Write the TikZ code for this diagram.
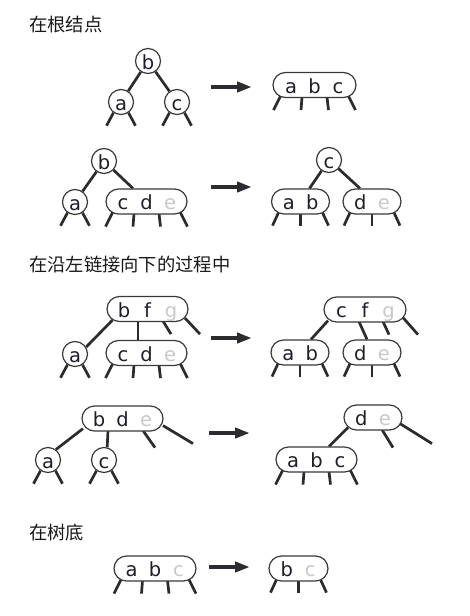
\documentclass[tikz,border=0pt]{standalone}
\usepackage{fontspec}
\usetikzlibrary{arrows.meta}
\newfontfamily\cjkfont{Noto Sans CJK SC}
\newfontfamily\keyfamily{DejaVu Sans}
\definecolor{keyline}{HTML}{3A3A3A}
\definecolor{linkcol}{HTML}{2B2B2B}
\definecolor{keytext}{HTML}{1E1E28}
\definecolor{ghost}{HTML}{C6C9CD}
\definecolor{arrowcol}{HTML}{2A2C30}
\pgfdeclarelayer{paper}
\pgfdeclarelayer{links}
\pgfsetlayers{paper,links,main}
% one key slot inside a node; ghost keys are the ones being moved
\newcommand\livekey[1]{\makebox[23.5pt]{#1}}
\newcommand\ghostkey[1]{\makebox[23.5pt]{\color{ghost}#1}}
% child links hanging below a node
\newcommand\circlelegs[1]{%
  \draw[link] (#1.235) -- ++(-7,13);
  \draw[link] (#1.305) -- ++(7,13);}
\newcommand\twolegs[1]{%
  \draw[link] ([shift={(-22,-2)}]#1.south) -- ++(-6,13);
  \draw[link] ([shift={(0,-1)}]#1.south) -- ++(0,12);
  \draw[link] ([shift={(22,-2)}]#1.south) -- ++(6,13);}
\newcommand\threelegs[1]{%
  \draw[link] ([shift={(-34,-2)}]#1.south) -- ++(-7,14);
  \draw[link] ([shift={(-12.5,-1)}]#1.south) -- ++(-1,13);
  \draw[link] ([shift={(12.5,-1)}]#1.south) -- ++(1.5,13);
  \draw[link] ([shift={(34,-2)}]#1.south) -- ++(7,14);}
\tikzset{
  keyfont/.style={font=\keyfamily\fontsize{19.5}{23}\selectfont, text=keytext},
  circ/.style={circle, draw=keyline, line width=1.2pt, fill=white,
    minimum size=25pt, inner sep=0pt, text height=16.4pt, text depth=0pt, keyfont},
  keybox/.style={rectangle, rounded corners=12.5pt, draw=keyline, line width=1.2pt,
    fill=white, minimum height=25pt, minimum width=#1, inner sep=0pt,
    text height=16.4pt, text depth=0pt, keyfont},
  link/.style={draw=linkcol, line width=2.7pt},
  bigarrow/.style={draw=arrowcol, line width=4pt, -{Triangle[length=15pt,width=10pt]}},
  heading/.style={anchor=west, inner sep=0pt, font=\cjkfont\fontsize{18.3}{21}\selectfont, text=black!90}
}
\begin{document}
\begin{tikzpicture}[x=1pt,y=-1pt]
\begin{pgfonlayer}{paper}
\fill[white] (0,0) rectangle (469,616);
\end{pgfonlayer}
\useasboundingbox (0,0) rectangle (469,616);

% headings
\node[heading] (h1) at (29,25) {在根结点};
\node[heading] (h2) at (29,265) {在沿左链接向下的过程中};
\node[heading] (h3) at (29,533) {在树底};

% ---- root: 2-node with two 2-node children
\node[circ] (r1b) at (148,61) {b};
\node[circ] (r1a) at (121,102) {a};
\node[circ] (r1c) at (177,102) {c};
\node[keybox=83pt] (r1abc) at (314.5,85) {\livekey{a}\livekey{b}\livekey{c}};

% ---- root: right child is a 3-node
\node[circ] (r2b) at (104,161) {b};
\node[circ] (r2a) at (75,202) {a};
\node[keybox=81pt] (r2cde) at (146.5,201.5) {\livekey{c}\livekey{d}\ghostkey{e}};
\node[circ] (r2c) at (329,160) {c};
\node[keybox=58pt] (r2ab) at (300.5,201.5) {\livekey{a}\livekey{b}};
\node[keybox=58pt] (r2de) at (372,201.5) {\livekey{d}\ghostkey{e}};

% ---- down the left links
\node[keybox=81pt] (r3bfg) at (147.5,309) {\livekey{b}\livekey{f}\ghostkey{g}};
\node[circ] (r3a) at (75,354) {a};
\node[keybox=81pt] (r3cde) at (146.5,353) {\livekey{c}\livekey{d}\ghostkey{e}};
\node[keybox=82pt] (r3cfg) at (365,309.5) {\livekey{c}\livekey{f}\ghostkey{g}};
\node[keybox=58pt] (r3ab) at (300,352.5) {\livekey{a}\livekey{b}};
\node[keybox=58pt] (r3de) at (372,352.5) {\livekey{d}\ghostkey{e}};

\node[keybox=81pt] (r4bde) at (122.5,418.5) {\livekey{b}\livekey{d}\ghostkey{e}};
\node[circ] (r4a) at (48,460) {a};
\node[circ] (r4c) at (104,460) {c};
\node[keybox=58pt] (r4de) at (373,417.5) {\livekey{d}\ghostkey{e}};
\node[keybox=81pt] (r4abc) at (316.5,459.5) {\livekey{a}\livekey{b}\livekey{c}};

% ---- at the bottom
\node[keybox=82pt] (r5abc) at (155,568.5) {\livekey{a}\livekey{b}\ghostkey{c}};
\node[keybox=59pt] (r5bc) at (298.5,568.5) {\livekey{b}\ghostkey{c}};

% transformation arrows
\coordinate (a1s) at (211,87);  \coordinate (a1e) at (252,87);
\coordinate (a2s) at (211,187); \coordinate (a2e) at (252,187);
\coordinate (a3s) at (211,338); \coordinate (a3e) at (252,338);
\coordinate (a4s) at (209,433); \coordinate (a4e) at (250,433);
\coordinate (a5s) at (209,567); \coordinate (a5e) at (250,567);
\foreach \n in {1,...,5} \draw[bigarrow] (a\n s) -- (a\n e);

\begin{pgfonlayer}{links}
% row 1
\draw[link] (r1b) -- (r1a);
\draw[link] (r1b) -- (r1c);
\circlelegs{r1a}
\circlelegs{r1c}
\threelegs{r1abc}
% row 2
\draw[link] (r2b) -- (r2a);
\draw[link] (r2b) -- ([xshift=-13.5pt]r2cde.north);
\circlelegs{r2a}
\threelegs{r2cde}
\draw[link] (r2c) -- ([xshift=9pt]r2ab.north);
\draw[link] (r2c) -- ([xshift=-12pt]r2de.north);
\twolegs{r2ab}
\twolegs{r2de}
% row 3
\draw[link] ([shift={(-35,-2)}]r3bfg.south) -- (r3a.32);
\draw[link] ([shift={(-9.5,-1)}]r3bfg.south) -- ([xshift=-8.5pt]r3cde.north);
\draw[link] ([shift={(15.5,-1)}]r3bfg.south) -- ++(8,13);
\draw[link] ([shift={(37.5,-4)}]r3bfg.south) -- ++(15,16);
\circlelegs{r3a}
\threelegs{r3cde}
\draw[link] ([shift={(-37,-2)}]r3cfg.south) -- ([xshift=11pt]r3ab.north);
\draw[link] ([shift={(-6,-1)}]r3cfg.south) -- ([xshift=-5pt]r3de.north);
\draw[link] ([shift={(18,-1)}]r3cfg.south) -- ++(6,13);
\draw[link] ([shift={(38,-5)}]r3cfg.south) -- ++(15,17);
\twolegs{r3ab}
\twolegs{r3de}
% row 4
\draw[link] ([shift={(-39.5,-3)}]r4bde.south) -- (r4a.53);
\draw[link] ([shift={(-14.5,-1)}]r4bde.south) -- (r4c.76);
\draw[link] ([shift={(20.5,-1)}]r4bde.south) -- ++(12,17);
\draw[link] ([shift={(40.5,-6)}]r4bde.south) -- ++(30,18);
\circlelegs{r4a}
\circlelegs{r4c}
\draw[link] ([shift={(-25,-3)}]r4de.south) -- ([xshift=12.5pt]r4abc.north);
\draw[link] ([shift={(9,-1)}]r4de.south) -- ++(11,18);
\draw[link] ([shift={(27,-7)}]r4de.south) -- ++(32,20);
\threelegs{r4abc}
% row 5
\threelegs{r5abc}
\twolegs{r5bc}
\end{pgfonlayer}
\end{tikzpicture}
\end{document}
